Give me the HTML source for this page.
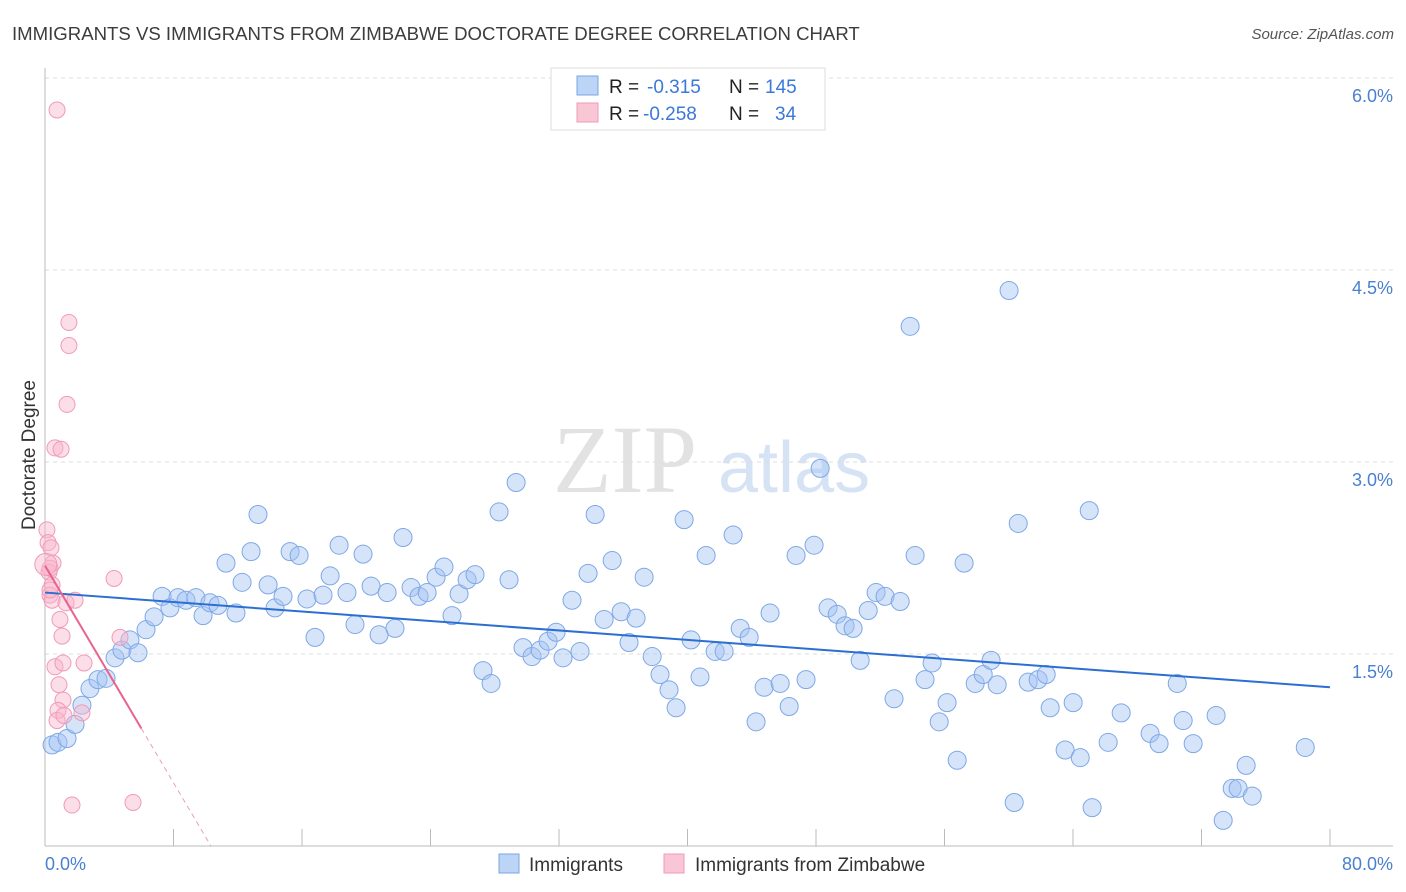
<!DOCTYPE html>
<html><head><meta charset="utf-8"><style>
body{margin:0;background:#fff;font-family:"Liberation Sans",sans-serif;}
svg{display:block}
</style></head><body>
<svg id="chart" width="1406" height="892">
<text x="12" y="40" font-size="18.6" fill="#3c3c3c">IMMIGRANTS VS IMMIGRANTS FROM ZIMBABWE DOCTORATE DEGREE CORRELATION CHART</text>
<text x="1394" y="39" font-size="15" fill="#555" font-style="italic" text-anchor="end">Source: ZipAtlas.com</text>
<g>
<text x="553" y="492" font-family="Liberation Serif,serif" font-size="96" fill="#e2e2e2">ZIP</text>
<text x="718" y="492" font-size="72" fill="#d6e3f5">atlas</text>
</g>
<g id="grid"></g>
<g id="axes"></g>
<g id="pts"></g>
<g id="trend"></g>
<text transform="translate(35,455) rotate(-90)" font-size="19" fill="#333" text-anchor="middle">Doctorate Degree</text>
<g>
<rect x="551" y="68" width="274" height="62" fill="#fff" stroke="#ddd"/>
<rect x="577" y="76" width="21" height="19" fill="#bcd4f6" stroke="#7aa6e4"/>
<rect x="577" y="103" width="21" height="19" fill="#f9c6d6" stroke="#ef9bb8"/>
<text x="609" y="93" font-size="19" fill="#222">R =</text><text x="647" y="93" font-size="19" fill="#3b78d8">-0.315</text>
<text x="729" y="93" font-size="19" fill="#222">N =</text><text x="765" y="93" font-size="19" fill="#3b78d8">145</text>
<text x="609" y="120" font-size="19" fill="#222">R =</text><text x="643" y="120" font-size="19" fill="#3b78d8">-0.258</text>
<text x="729" y="120" font-size="19" fill="#222">N =</text><text x="775" y="120" font-size="19" fill="#3b78d8">34</text>
</g>
<g>
<rect x="499" y="854" width="20" height="19" fill="#bcd4f6" stroke="#7aa6e4"/>
<text x="529" y="871" font-size="19" fill="#333">Immigrants</text>
<rect x="664" y="854" width="20" height="19" fill="#f9c6d6" stroke="#ef9bb8"/>
<text x="695" y="871" font-size="19" fill="#333">Immigrants from Zimbabwe</text>
</g>
</svg>
<script>
const blueX=[0.44,0.81,1.37,1.87,2.30,2.80,3.30,3.80,4.36,4.79,5.29,5.79,6.29,6.79,7.29,7.78,8.28,8.78,9.40,9.84,10.27,10.77,11.27,11.89,12.27,12.83,13.26,13.89,14.32,14.82,15.26,15.82,16.31,16.81,17.31,17.75,18.31,18.80,19.30,19.80,20.30,20.80,21.30,21.79,22.29,22.79,23.29,23.79,24.35,24.84,25.34,25.78,26.28,26.77,27.27,27.77,28.27,28.89,29.33,29.76,30.32,30.82,31.32,31.82,32.25,32.81,33.31,33.81,34.25,34.81,35.31,35.87,36.36,36.80,37.30,37.80,38.29,38.85,39.29,39.79,40.22,40.78,41.16,41.72,42.28,42.84,43.28,43.84,44.27,44.77,45.14,45.77,46.33,46.76,47.38,47.88,48.26,48.75,49.32,49.81,50.31,50.75,51.25,51.74,52.30,52.86,53.24,53.86,54.17,54.79,55.23,55.67,56.16,56.79,57.22,57.91,58.41,58.90,59.28,60.02,60.34,60.59,61.21,61.83,62.33,62.58,63.51,64.01,64.45,65.01,65.19,66.19,67.00,68.80,69.36,70.49,70.86,71.48,72.91,73.35,73.91,74.28,74.78,75.16,78.46];
const blueY=[0.79,0.81,0.84,0.95,1.10,1.23,1.30,1.31,1.47,1.53,1.61,1.51,1.69,1.79,1.95,1.86,1.94,1.92,1.94,1.80,1.90,1.88,2.21,1.82,2.06,2.30,2.59,2.04,1.86,1.95,2.30,2.27,1.93,1.63,1.96,2.11,2.35,1.98,1.73,2.28,2.03,1.65,1.98,1.70,2.41,2.02,1.95,1.98,2.10,2.18,1.80,1.97,2.08,2.12,1.37,1.27,2.61,2.08,2.84,1.55,1.48,1.53,1.60,1.67,1.47,1.92,1.52,2.13,2.59,1.77,2.23,1.83,1.59,1.78,2.10,1.48,1.34,1.22,1.08,2.55,1.61,1.32,2.27,1.52,1.52,2.43,1.70,1.63,0.97,1.24,1.82,1.27,1.09,2.27,1.30,2.35,2.95,1.86,1.81,1.72,1.70,1.45,1.84,1.98,1.95,1.15,1.91,4.06,2.27,1.30,1.43,0.97,1.12,0.67,2.21,1.27,1.34,1.45,1.26,4.34,0.34,2.52,1.28,1.30,1.34,1.08,0.75,1.12,0.69,2.62,0.30,0.81,1.04,0.88,0.80,1.27,0.98,0.80,1.02,0.20,0.45,0.45,0.63,0.39,0.77];
const pinkX=[0.75,1.49,1.49,1.37,0.62,1.00,0.12,0.19,0.37,0.50,0.25,0.44,0.31,0.44,1.31,1.87,4.30,0.93,1.06,4.67,0.62,1.12,2.43,0.87,1.12,0.81,0.75,1.18,2.30,1.68,5.48,0.31,0.05,0.31];
const pinkY=[5.75,4.09,3.91,3.45,3.11,3.10,2.47,2.37,2.33,2.21,2.14,2.04,1.96,1.92,1.90,1.92,2.09,1.77,1.64,1.63,1.40,1.43,1.43,1.26,1.14,1.06,0.98,1.02,1.04,0.32,0.34,2.17,2.20,2.00];
const yTicks=[1.5,3.0,4.5,6.0];
const yTickLabels=["1.5%","3.0%","4.5%","6.0%"];
const xTicks=[0,8,16,24,32,40,48,56,64,72,80];
const blueTrend=[1.98,1.24];
const pinkTrend=[2.19,-0.212];
const pinkSolidEnd=6.0;

const NS="http://www.w3.org/2000/svg";
const X0=45,X1=1330,Y0=846;
const sx=v=>X0+v/80*(X1-X0);
const sy=v=>Y0-v*128;
function mk(tag,attrs,parent){const e=document.createElementNS(NS,tag);for(const k in attrs)e.setAttribute(k,attrs[k]);parent.appendChild(e);return e;}
const grid=document.getElementById('grid'),axes=document.getElementById('axes'),pts=document.getElementById('pts'),tr=document.getElementById('trend');
yTicks.forEach((t,i)=>{
 const l=mk('line',{x1:X0,x2:1393,y1:sy(t),y2:sy(t),stroke:'#ddd','stroke-dasharray':'4,4'},grid);
 
 
 const tx=mk('text',{x:1393,y:sy(t)+24,'text-anchor':'end','font-size':'18',fill:'#4a80d0'},axes);
 tx.textContent=yTickLabels[i];
 
 
});
const ya=mk('line',{x1:X0,x2:X0,y1:68,y2:Y0,stroke:'#bbb'},axes);


const xa=mk('line',{x1:X0,x2:1393,y1:Y0,y2:Y0,stroke:'#bbb'},axes);


xTicks.forEach(t=>{
 const l=mk('line',{x1:sx(t),x2:sx(t),y1:829,y2:Y0,stroke:'#bbb'},axes);
 
 
});
const xl0=mk('text',{x:45,y:870,'font-size':'18',fill:'#4a80d0'},axes);xl0.textContent='0.0%';


const xl1=mk('text',{x:1393,y:870,'text-anchor':'end','font-size':'18',fill:'#4a80d0'},axes);xl1.textContent='80.0%';


blueX.forEach((v,i)=>{
 const c=mk('circle',{cx:sx(v),cy:sy(blueY[i]),r:9,fill:'rgba(164,196,244,0.45)',stroke:'#7ea8e6','stroke-width':1},pts);
 
 
});
pinkX.forEach((v,i)=>{
 const c=mk('circle',{cx:sx(v),cy:sy(pinkY[i]),r:(i==32?11:8),fill:'rgba(248,182,204,0.45)',stroke:'#f09ab8','stroke-width':1},pts);
 
 
});
const bl=mk('line',{x1:sx(0),y1:sy(blueTrend[0]),x2:sx(80),y2:sy(blueTrend[1]),stroke:'#2a6fd1','stroke-width':2},tr);


const pl=mk('line',{x1:sx(0),y1:sy(pinkTrend[0]),x2:sx(pinkSolidEnd),y2:sy(pinkTrend[0]+pinkTrend[1]*pinkSolidEnd),stroke:'#e8648c','stroke-width':2},tr);


const xEnd=-pinkTrend[0]/pinkTrend[1];
const pd=mk('line',{x1:sx(pinkSolidEnd),y1:sy(pinkTrend[0]+pinkTrend[1]*pinkSolidEnd),x2:sx(xEnd),y2:sy(0),stroke:'#e8a0b8','stroke-width':1,'stroke-dasharray':'5,4'},tr);


</script>
</body></html>
